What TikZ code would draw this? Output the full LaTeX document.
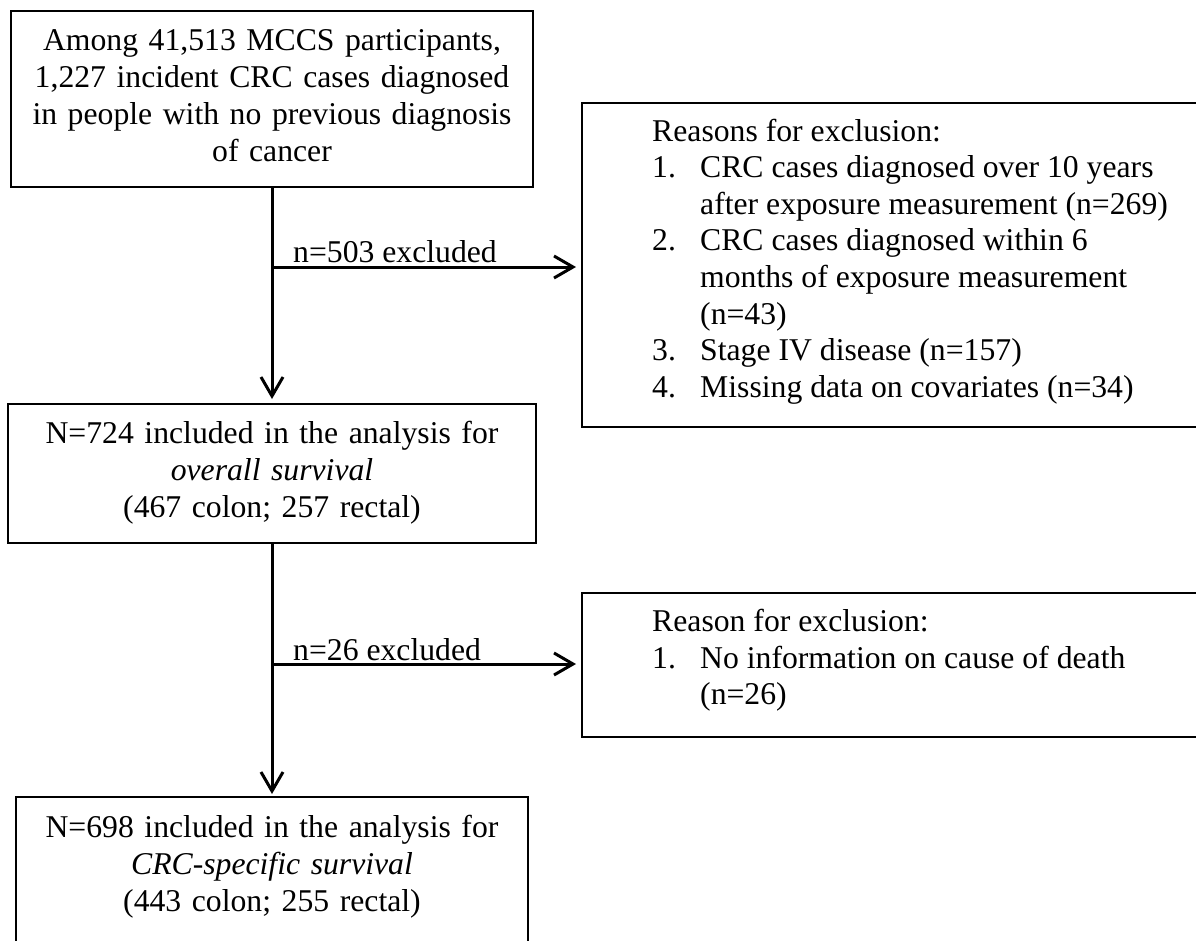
\documentclass[tikz,border=0pt]{standalone}
\usepackage{fontspec}
\setmainfont{Liberation Serif}
\usetikzlibrary{arrows.meta}
\begin{document}
\begin{tikzpicture}[x=1pt,y=-1pt,
  box/.style={draw, line width=2pt, inner sep=0pt},
  txt/.style={font=\fontsize{31.7}{37}\selectfont, inner sep=0pt},
  ctxt/.style={txt, text width=515pt, align=center, anchor=base},
  ltxt/.style={txt, anchor=base west},
  arr/.style={line width=3pt, -{Straight Barb[length=19pt,width=22pt]}}]
\useasboundingbox (0,0) rectangle (1196,940);
% main boxes
\node[box, minimum width=522pt, minimum height=176pt] (a) at (272,99) {};
\node[box, minimum width=528pt, minimum height=139pt] (b) at (272,473.5) {};
\node[box, minimum width=512pt, minimum height=148pt] (c) at (272,871) {};
% exclusion boxes
\node[box, minimum width=628pt, minimum height=324pt] (r1) at (896,265) {};
\node[box, minimum width=628pt, minimum height=144pt] (r2) at (896,665) {};
% texts of main boxes
\node[ctxt] (at) at (272,50) {Among 41,513 MCCS participants,\\1,227 incident CRC cases diagnosed\\in people with no previous diagnosis\\of cancer};
\node[ctxt] (bt) at (272,443) {N=724 included in the analysis for\\\textit{overall survival}\\(467 colon; 257 rectal)};
\node[ctxt] (ct) at (272,837) {N=698 included in the analysis for\\\textit{CRC-specific survival}\\(443 colon; 255 rectal)};
% reasons 1
\node[ltxt] (r1h) at (652,141) {Reasons for exclusion:};
\node[ltxt] (r1n1) at (652,177.6) {1.};
\node[ltxt] (r1a) at (700,177.6) {CRC cases diagnosed over 10 years};
\node[ltxt] (r1b) at (700,214.2) {after exposure measurement (n=269)};
\node[ltxt] (r1n2) at (652,250.8) {2.};
\node[ltxt] (r1c) at (700,250.8) {CRC cases diagnosed within 6};
\node[ltxt] (r1d) at (700,287.4) {months of exposure measurement};
\node[ltxt] (r1e) at (700,324) {(n=43)};
\node[ltxt] (r1n3) at (652,360.6) {3.};
\node[ltxt] (r1f) at (700,360.6) {Stage IV disease (n=157)};
\node[ltxt] (r1n4) at (652,397.2) {4.};
\node[ltxt] (r1g) at (700,397.2) {Missing data on covariates (n=34)};
% reasons 2
\node[ltxt] (r2h) at (652,631.5) {Reason for exclusion:};
\node[ltxt] (r2n1) at (652,668.1) {1.};
\node[ltxt] (r2a) at (700,668.1) {No information on cause of death};
\node[ltxt] (r2b) at (700,704.7) {(n=26)};
% connectors
\draw[arr, shorten >=4pt] (a) -- (b);
\draw[arr, shorten >=2pt] (b) -- (c);
\coordinate (j1) at (272,267);
\coordinate (j2) at (272,664);
\draw[arr, shorten >=5pt] (j1) -- (j1 -| r1.west);
\draw[arr, shorten >=5pt] (j2) -- (j2 -| r2.west);
\node[ltxt] (l1) at (293,262) {n=503 excluded};
\node[ltxt] (l2) at (293,660) {n=26 excluded};
\end{tikzpicture}
\end{document}
